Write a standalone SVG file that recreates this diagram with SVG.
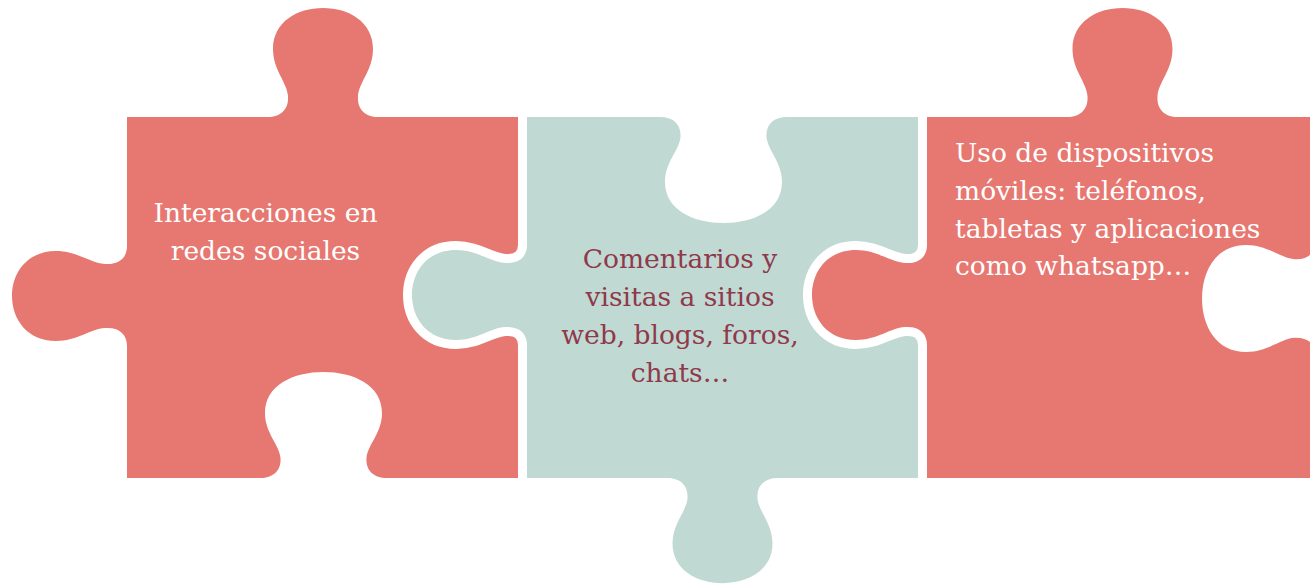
<svg xmlns="http://www.w3.org/2000/svg" xmlns:xlink="http://www.w3.org/1999/xlink" width="1310" height="585" viewBox="0 0 1310 585">
<style>
.red{fill:#E67871}
.teal{fill:#C1D9D3}
.hole{fill:#FFFFFF}
.edge{fill:none;stroke:#FFFFFF;stroke-width:18;stroke-linejoin:round}
.lbl{font-family:"DejaVu Serif","Liberation Serif",serif;font-size:26.5px}
.w{fill:#FFFFFF}
.m{fill:#8E3A4B}
</style>
<defs>
<path id="tabV" d="M -55,2 L -55,0 C -43,0 -34,-7 -35,-21 C -36,-35 -50,-47 -50,-68 C -50,-95 -26,-109 0,-109 C 26,-109 50,-95 50,-68 C 50,-47 36,-35 35,-21 C 34,-7 43,0 55,0 L 55,2 Z"/>
<path id="tabH" d="M -50,2 L -50,0 C -39,0 -31,-7 -32,-22 C -33,-37 -45,-50 -45,-71 C -45,-100 -23,-115 0,-115 C 23,-115 45,-100 45,-71 C 45,-50 33,-37 32,-22 C 31,-7 39,0 50,0 L 50,2 Z"/>
<path id="slot" d="M -63,4 L -63,0 C -51,0 -42,-7 -43,-20 C -44,-33 -58.5,-45 -58.5,-65 C -58.5,-93 -30,-106 0,-106 C 30,-106 58.5,-93 58.5,-65 C 58.5,-45 44,-33 43,-20 C 42,-7 51,0 63,0 L 63,4 Z"/>
</defs>

<g id="piece1">
<rect class="red" x="127" y="117" width="405" height="361"/>
<use xlink:href="#tabV" class="red" transform="translate(323,117)"/>
<use xlink:href="#tabH" class="red" transform="translate(127,296) rotate(-90)"/>
<use xlink:href="#slot" class="hole" transform="translate(323.5,478)"/>
<text class="lbl w" text-anchor="middle"><tspan x="265.5" y="222">Interacciones en</tspan><tspan x="265.5" y="260">redes sociales</tspan></text>
</g>

<g id="piece2">
<rect class="edge" x="527" y="117" width="391" height="361"/>
<use xlink:href="#tabH" class="edge" transform="translate(527,295) rotate(-90)"/>
<use xlink:href="#tabV" class="edge" transform="translate(722.5,478) scale(1,-0.965)"/>
<rect class="teal" x="527" y="117" width="391" height="361"/>
<use xlink:href="#tabH" class="teal" transform="translate(527,295) rotate(-90)"/>
<use xlink:href="#tabV" class="teal" transform="translate(722.5,478) scale(1,-0.965)"/>
<use xlink:href="#slot" class="hole" transform="translate(723.5,117) scale(1,-1)"/>
<text class="lbl m" text-anchor="middle"><tspan x="680" y="268">Comentarios y</tspan><tspan x="680" y="306">visitas a sitios</tspan><tspan x="680" y="344">web, blogs, foros,</tspan><tspan x="680" y="382">chats…</tspan></text>
</g>

<g id="piece3">
<rect class="edge" x="927" y="117" width="400" height="361"/>
<use xlink:href="#tabH" class="edge" transform="translate(927,295) rotate(-90)"/>
<use xlink:href="#tabV" class="edge" transform="translate(1122.5,117)"/>
<rect class="red" x="927" y="117" width="400" height="361"/>
<use xlink:href="#tabH" class="red" transform="translate(927,295) rotate(-90)"/>
<use xlink:href="#tabV" class="red" transform="translate(1122.5,117)"/>
<use xlink:href="#slot" class="hole" transform="translate(1316,298.5) rotate(-90) scale(0.915,1.075)"/>
<text class="lbl w"><tspan x="955" y="162">Uso de dispositivos</tspan><tspan x="955" y="200">móviles: teléfonos,</tspan><tspan x="955" y="237.5">tabletas y aplicaciones</tspan><tspan x="955" y="275">como whatsapp…</tspan></text>
</g>

<g id="connectors"></g>
</svg>
